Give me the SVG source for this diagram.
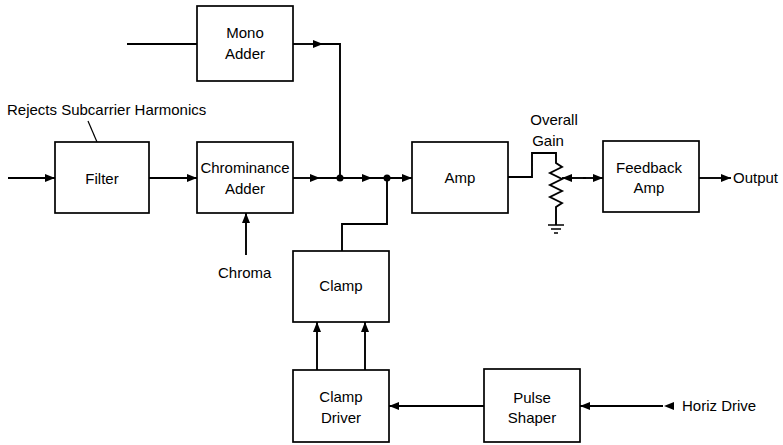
<svg xmlns="http://www.w3.org/2000/svg" width="783" height="445" viewBox="0 0 783 445">
<defs>
<marker id="arr" viewBox="0 0 10 8" refX="10" refY="4" markerWidth="10" markerHeight="8" markerUnits="userSpaceOnUse" orient="auto">
<path d="M0,0 L10,4 L0,8 Z" fill="#000"/>
</marker>
<marker id="arrs" viewBox="0 0 10 8" refX="0" refY="4" markerWidth="10" markerHeight="8" markerUnits="userSpaceOnUse" orient="auto">
<path d="M10,0 L0,4 L10,8 Z" fill="#000"/>
</marker>
</defs>
<style>
.box{fill:#fff;stroke:#000;stroke-width:1.7}
.ln{fill:none;stroke:#000;stroke-width:1.9}
text{font-family:"Liberation Sans",Arial,sans-serif;font-size:15px;fill:#000}
.c{text-anchor:middle}
</style>
<rect width="783" height="445" fill="#fff"/>
<g id="connectors">
<path class="ln" d="M127,44 H197"/>
<path class="ln" d="M8,178 H55" marker-end="url(#arr)"/>
<path class="ln" d="M149,178 H197" marker-end="url(#arr)"/>
<path class="ln" d="M293,178 H320" marker-end="url(#arr)"/>
<path class="ln" d="M320,178 H412"/>
<path class="ln" d="M340,178 H372" marker-end="url(#arr)"/>
<path class="ln" d="M387,178 H412" marker-end="url(#arr)"/>
<path class="ln" d="M293,44 H323" marker-end="url(#arr)"/>
<path class="ln" d="M320,44 H340 V178"/>
<circle cx="340" cy="178" r="3.5"/>
<circle cx="387" cy="178" r="3.5"/>
<path class="ln" d="M342,251 V224 H387 V178"/>
<path class="ln" d="M246,255 V213" marker-end="url(#arr)"/>
<path class="ln" d="M88,121 L97,142" style="stroke-width:1.2"/>
<path class="ln" d="M508,177 H532 V153 H556 V163 L562,167 L550,173 L562,179 L550,185 L562,191 L550,197 L562,203 L556,207 V225"/>
<path class="ln" d="M548,225 H564 M551,229 H561 M554,233 H558" style="stroke-width:1.4"/>
<path class="ln" d="M583,178 H603" marker-end="url(#arr)"/>
<path class="ln" d="M562,178 H586" marker-start="url(#arrs)"/>
<path class="ln" d="M699,178 H731" marker-end="url(#arr)"/>
<path class="ln" d="M317,370 V322" marker-end="url(#arr)"/>
<path class="ln" d="M365,370 V322" marker-end="url(#arr)"/>
<path class="ln" d="M484,406 H389" marker-end="url(#arr)"/>
<path class="ln" d="M663,406 H580" marker-end="url(#arr)"/>
<path d="M664,402 L674,406 L664,410 Z" fill="#000" transform="rotate(180 669 406)"/>
</g>
<g id="mono-adder"><rect class="box" x="197" y="6" width="96" height="75"/><text class="c" x="245" y="38">Mono</text><text class="c" x="245" y="59">Adder</text></g>
<g id="filter"><rect class="box" x="55" y="142" width="94" height="71"/><text class="c" x="102" y="184">Filter</text></g>
<g id="chrominance-adder"><rect class="box" x="197" y="142" width="96" height="71"/><text class="c" x="245" y="173">Chrominance</text><text class="c" x="245" y="194">Adder</text></g>
<g id="amp"><rect class="box" x="412" y="142" width="96" height="71"/><text class="c" x="460" y="183">Amp</text></g>
<g id="feedback-amp"><rect class="box" x="603" y="141" width="96" height="71"/><text class="c" x="649" y="173">Feedback</text><text class="c" x="649" y="193">Amp</text></g>
<g id="clamp"><rect class="box" x="293" y="251" width="96" height="71"/><text class="c" x="341" y="291">Clamp</text></g>
<g id="clamp-driver"><rect class="box" x="293" y="370" width="96" height="72"/><text class="c" x="341" y="402">Clamp</text><text class="c" x="341" y="423">Driver</text></g>
<g id="pulse-shaper"><rect class="box" x="484" y="369" width="96" height="73"/><text class="c" x="532" y="403">Pulse</text><text class="c" x="532" y="423">Shaper</text></g>
<g id="labels">
<text x="7" y="115">Rejects Subcarrier Harmonics</text>
<text x="218" y="278">Chroma</text>
<text class="c" x="554" y="125">Overall</text>
<text class="c" x="548" y="146">Gain</text>
<text x="733" y="183">Output</text>
<text x="682" y="411">Horiz Drive</text>
</g>
</svg>
